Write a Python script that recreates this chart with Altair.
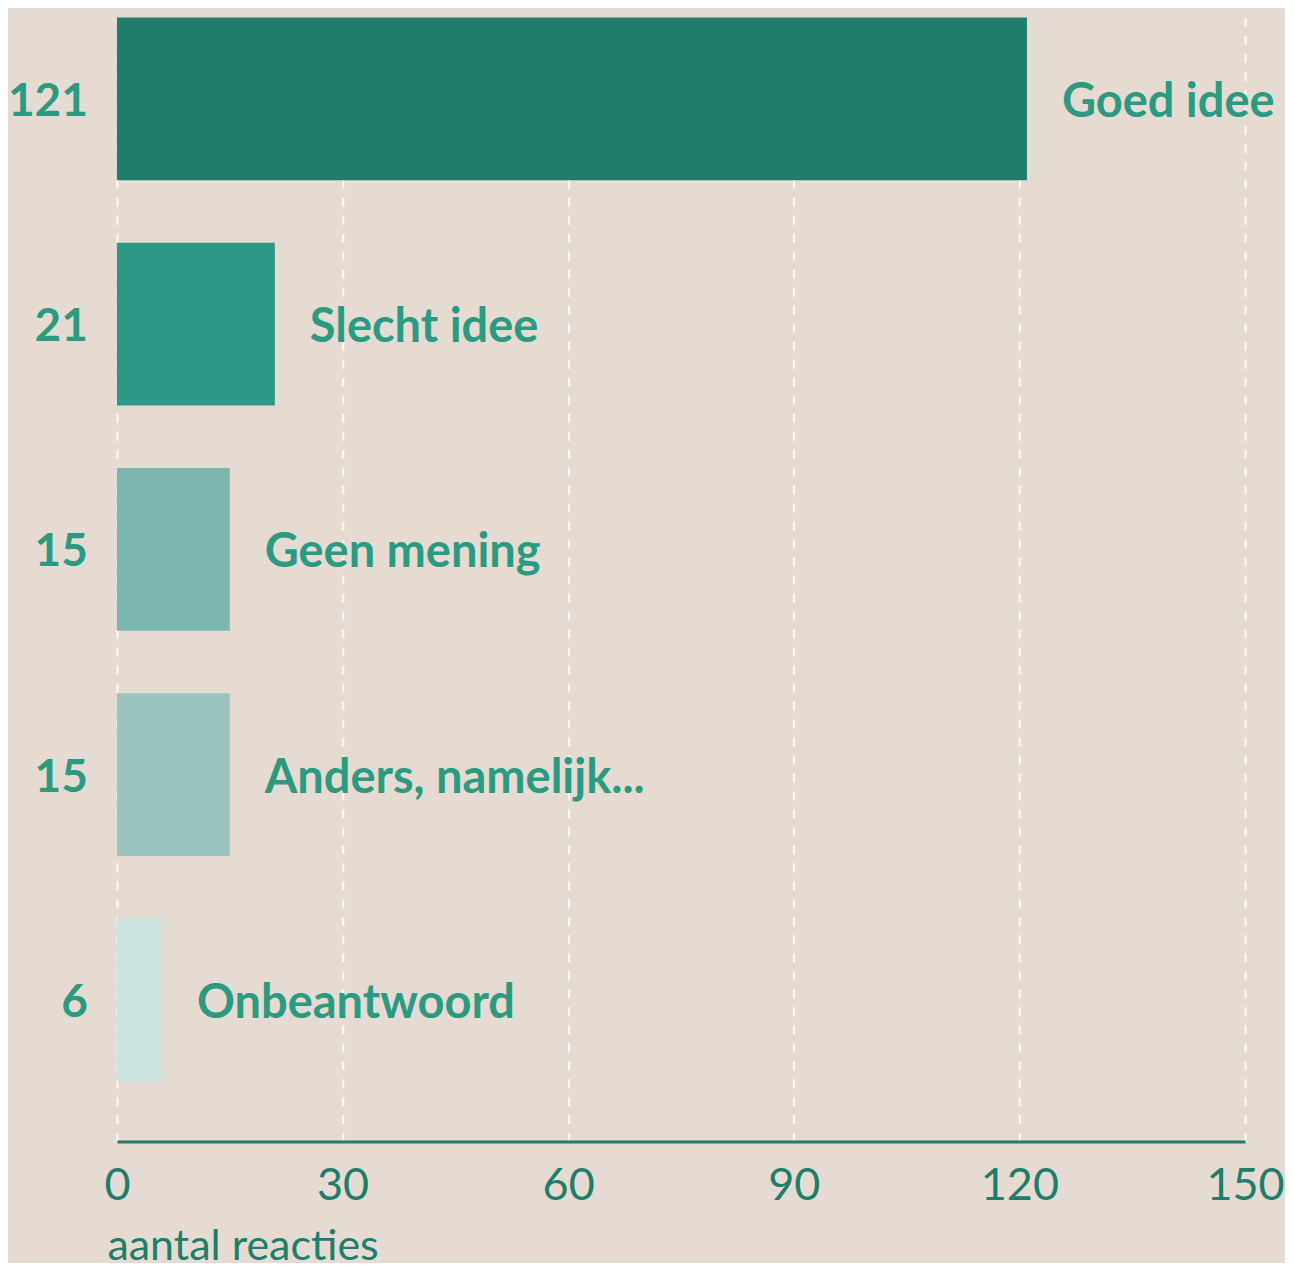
import altair as alt
import pandas as pd

categories = ["Goed idee", "Slecht idee", "Geen mening", "Anders, namelijk...", "Onbeantwoord"]
counts = [121, 21, 15, 15, 6]
bar_colors = ["#1e7d6b", "#2a9884", "#7bb7ae", "#9ac5be", "#c9e4df"]
x_ticks = [0, 30, 60, 90, 120, 150]

df = pd.DataFrame({"categorie": categories, "aantal": counts, "kleur": bar_colors})

FONT = "Lato"
LABEL_COLOR = "#2a9a80"
AXIS_COLOR = "#1e7d6b"

y_enc = alt.Y(
    "categorie:N",
    sort=categories,
    axis=None,
    scale=alt.Scale(paddingInner=0.277, paddingOuter=0.154, align=0.13),
)

bars = alt.Chart(df).mark_bar(cornerRadius=0).encode(
    x=alt.X(
        "aantal:Q",
        scale=alt.Scale(domain=[0, 150], nice=False),
        axis=alt.Axis(
            values=x_ticks,
            title="aantal reacties",
            titleFont=FONT,
            titleFontSize=43,
            titleFontWeight="normal",
            titleColor=AXIS_COLOR,
            titleAnchor="start",
            titleAlign="left",
            titleBaseline="alphabetic",
            titleX=-10,
            titleY=118,
            labelFont=FONT,
            labelFontSize=45,
            labelColor=AXIS_COLOR,
            labelPadding=22,
            labelFlush=False,
            labelOverlap=False,
            ticks=False,
            domain=True,
            domainColor=AXIS_COLOR,
            domainWidth=3,
            grid=True,
            gridColor="#ffffff",
            gridOpacity=0.85,
            gridWidth=2,
            gridDash=[9, 9],
        ),
    ),
    y=y_enc,
    color=alt.Color("kleur:N", scale=None, legend=None),
)

names = alt.Chart(df).mark_text(
    align="left", baseline="middle", dx=35, dy=4,
    font=FONT, fontSize=47, fontWeight="bold", color=LABEL_COLOR,
).encode(
    x="aantal:Q",
    y=y_enc,
    text="categorie:N",
)

nums = alt.Chart(df).mark_text(
    align="right", baseline="middle", dx=-29, dy=3,
    font=FONT, fontSize=46, fontWeight="bold", color=LABEL_COLOR,
).encode(
    x=alt.datum(0),
    y=y_enc,
    text="aantal:Q",
)

chart = alt.layer(bars, names, nums).properties(
    width=1129,
    height=1134,
    background="#e6dbd2",
    padding={"left": 109, "top": 0, "right": 40, "bottom": 121},
    autosize=alt.AutoSizeParams(type="none"),
).configure_view(stroke=None)

chart.save("out.html", embed_options={"renderer": "svg", "actions": False})
